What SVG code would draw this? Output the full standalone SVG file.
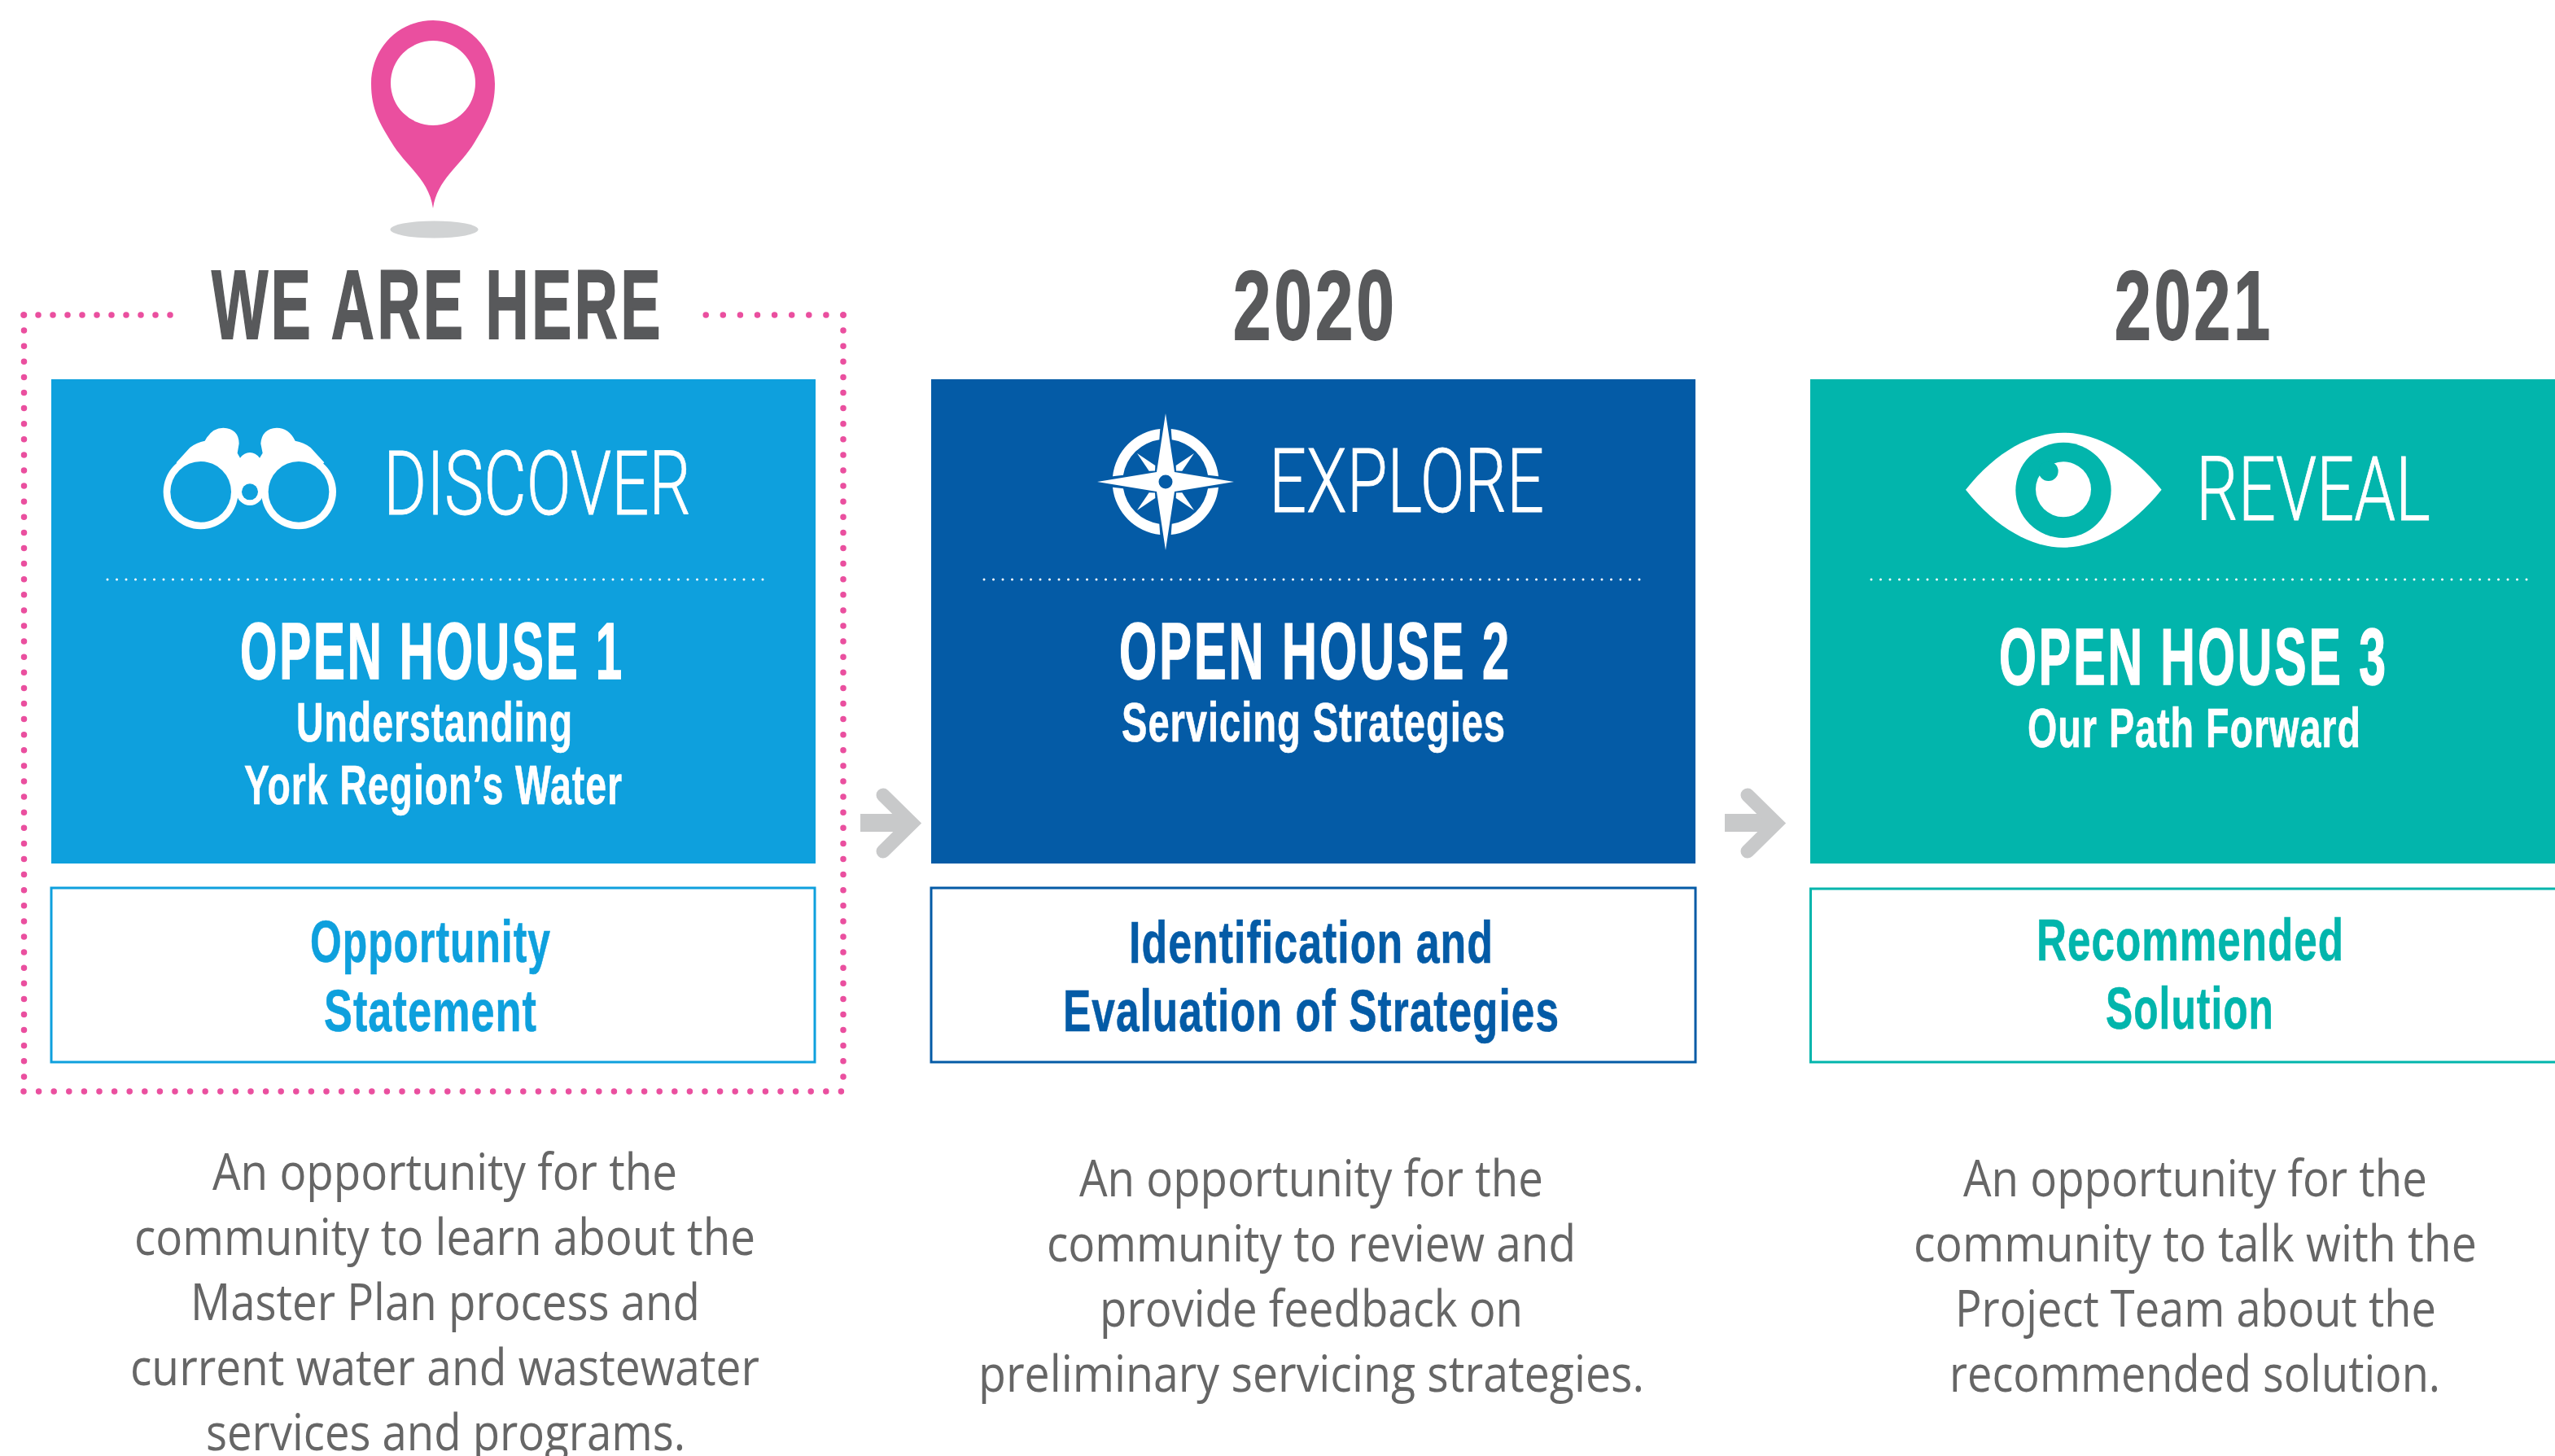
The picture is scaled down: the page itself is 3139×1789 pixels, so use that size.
<svg xmlns="http://www.w3.org/2000/svg" width="3139" height="1789" viewBox="0 0 3139 1789">
<style>
.year{font:700 120px "Liberation Sans",Arial,sans-serif;fill:#58595b;stroke:#58595b;stroke-width:2;letter-spacing:.05em}
.phase{font:300 110px Roboto,"Liberation Sans",sans-serif;fill:#fff;stroke:#fff;stroke-width:.8}
.oh{font:700 99px "Liberation Sans",Arial,sans-serif;fill:#fff;stroke:#fff;stroke-width:1.5;letter-spacing:.05em}
.sub{font:700 68px "Liberation Sans",Arial,sans-serif;fill:#fff;stroke:#fff;stroke-width:.6;letter-spacing:.02em}
.out{font:700 73px "Liberation Sans",Arial,sans-serif;stroke-width:.6;letter-spacing:.02em}
.body{font:400 63px "Open Sans","Noto Sans",sans-serif;fill:#666}
.wd{fill:none;stroke:#fff;stroke-width:3;stroke-linecap:round;stroke-dasharray:0 11.5}
.pd{fill:none;stroke:#ea4f9f;stroke-width:7.5;stroke-linecap:round}
.arrow-shaft{fill:#c8c9ca}
.arrow-head{fill:none;stroke:#c8c9ca;stroke-width:17;stroke-linecap:round;stroke-linejoin:miter}
.b1{fill:#0ea0dd}.b2{fill:#045ba6}.b3{fill:#02b5ac}
.o{fill:#fff;stroke-width:3}
</style>
<defs>
<g id="arrow"><rect class="arrow-shaft" x="1057" y="1000" width="62" height="22"/><path class="arrow-head" d="M1085 977L1120 1011.500L1085 1046"/></g>
<path id="spike" d="M35 -35L12.700 -20L13 -13.500L20.300 -13.300Z" fill="#fff"/>
<path id="arc" d="M6.700 -65A65.500 65.500 0 0 1 65 -6.700L52 -8.300A52.500 52.500 0 0 0 7.700 -51.700Z" fill="#fff"/>
</defs>

<g id="marker">
<path d="M532 25C574 25 608 59 608 103C608 135 597 152 583 175C565 205 537 220 532 256C527 220 499 205 481 175C467 152 456 135 456 103C456 59 490 25 532 25Z M532 50A52 52 0 1 0 532 154A52 52 0 1 0 532 50Z" fill="#ea4f9f" fill-rule="evenodd"/>
<ellipse cx="533.500" cy="282" rx="54" ry="10.500" fill="#d1d3d4"/>
</g>

<g id="highlight-frame">
<path class="pd" stroke-dasharray="0 18" d="M29 387H212"/>
<path class="pd" stroke-dasharray="0 21.100" d="M1036 387H866"/>
<path class="pd" stroke-dasharray="0 19.100" d="M29.500 387V1341"/>
<path class="pd" stroke-dasharray="0 19.100" d="M1036 387V1341"/>
<path class="pd" stroke-dasharray="0 18.600" d="M29 1341H1037"/>
</g>

<g id="connectors">
<use href="#arrow"/>
<use href="#arrow" x="1062"/>
</g>

<g id="stage-1">
<text class="year" x="260" y="416" textLength="555" lengthAdjust="spacingAndGlyphs">WE ARE HERE</text>
<rect class="b1" x="63" y="466" width="939" height="595"/>
<g transform="translate(180 510) scale(.3333)" fill="#fff">
<path d="M110 175L160 120Q185 100 215 95Q240 47 283 47Q340 50 341 105L335 140L345 158Q360 138 381 138Q402 138 417 158L428 140L421 105Q425 50 480 47Q525 47 548 95Q580 100 605 120L655 175L560 285L430 300Q381 350 335 300L200 285Z"/>
<circle cx="200" cy="283" r="138"/><circle cx="561" cy="283" r="138"/><circle cx="381" cy="283" r="50"/>
<g class="b1"><circle cx="200" cy="283" r="112"/><circle cx="561" cy="283" r="112"/><circle cx="381" cy="283" r="30"/></g>
</g>
<text class="phase" x="471" y="632" textLength="378" lengthAdjust="spacingAndGlyphs">DISCOVER</text>
<path class="wd" d="M132 712H938"/>
<text class="oh" x="295" y="834" textLength="472" lengthAdjust="spacingAndGlyphs">OPEN HOUSE 1</text>
<text class="sub" x="364" y="910.500" textLength="340" lengthAdjust="spacingAndGlyphs">Understanding</text>
<text class="sub" x="300" y="988" textLength="465" lengthAdjust="spacingAndGlyphs">York Region’s Water</text>
<rect class="o" x="63" y="1091" width="938" height="214" stroke="#0ea0dd"/>
<g class="out" fill="#0ea0dd" stroke="#0ea0dd">
<text x="381" y="1182" textLength="296" lengthAdjust="spacingAndGlyphs">Opportunity</text>
<text x="398" y="1267" textLength="262" lengthAdjust="spacingAndGlyphs">Statement</text>
</g>
<g class="body">
<text x="261" y="1462" textLength="571" lengthAdjust="spacingAndGlyphs">An opportunity for the</text>
<text x="165" y="1542" textLength="763" lengthAdjust="spacingAndGlyphs">community to learn about the</text>
<text x="234" y="1622" textLength="626" lengthAdjust="spacingAndGlyphs">Master Plan process and</text>
<text x="160" y="1702" textLength="773" lengthAdjust="spacingAndGlyphs">current water and wastewater</text>
<text x="253" y="1782" textLength="589" lengthAdjust="spacingAndGlyphs">services and programs.</text>
</g>
</g>

<g id="stage-2">
<text class="year" x="1515" y="416.500" textLength="202" lengthAdjust="spacingAndGlyphs">2020</text>
<rect class="b2" x="1144" y="466" width="939" height="595"/>
<g transform="translate(1432 592)">
<use href="#arc"/><use href="#arc" transform="scale(-1 1)"/><use href="#arc" transform="scale(1 -1)"/><use href="#arc" transform="scale(-1 -1)"/>
<use href="#spike"/><use href="#spike" transform="scale(-1 1)"/><use href="#spike" transform="scale(1 -1)"/><use href="#spike" transform="scale(-1 -1)"/>
<path d="M0 -84L11 -12L84 0L11 12L0 84L-11 12L-84 0L-11 -12Z" fill="#fff"/>
<circle class="b2" r="8.500"/>
</g>
<text class="phase" x="1559" y="629" textLength="338" lengthAdjust="spacingAndGlyphs">EXPLORE</text>
<path class="wd" d="M1209 712H2016"/>
<text class="oh" x="1375" y="833.500" textLength="482" lengthAdjust="spacingAndGlyphs">OPEN HOUSE 2</text>
<text class="sub" x="1378" y="910.500" textLength="472" lengthAdjust="spacingAndGlyphs">Servicing Strategies</text>
<rect class="o" x="1144" y="1091" width="939" height="214" stroke="#045ba6"/>
<g class="out" fill="#045ba6" stroke="#045ba6">
<text x="1387" y="1182.500" textLength="448" lengthAdjust="spacingAndGlyphs">Identification and</text>
<text x="1306" y="1266.500" textLength="610" lengthAdjust="spacingAndGlyphs">Evaluation of Strategies</text>
</g>
<g class="body">
<text x="1326" y="1470" textLength="570" lengthAdjust="spacingAndGlyphs">An opportunity for the</text>
<text x="1286" y="1550" textLength="650" lengthAdjust="spacingAndGlyphs">community to review and</text>
<text x="1351" y="1630" textLength="520" lengthAdjust="spacingAndGlyphs">provide feedback on</text>
<text x="1202" y="1710" textLength="818" lengthAdjust="spacingAndGlyphs">preliminary servicing strategies.</text>
</g>
</g>

<g id="stage-3">
<text class="year" x="2598" y="416.500" textLength="195" lengthAdjust="spacingAndGlyphs">2021</text>
<rect class="b3" x="2224" y="466" width="915" height="595"/>
<g transform="translate(2390 510) scale(.3333)">
<path d="M75 275C190 130 320 65 435 65C550 65 680 130 797 275C680 420 550 488 435 488C320 488 190 420 75 275Z" fill="#fff"/>
<circle class="b3" cx="435" cy="277" r="176"/>
<circle cx="435" cy="274" r="102" fill="#fff"/>
<circle class="b3" cx="380" cy="207" r="36"/>
</g>
<text class="phase" x="2698" y="639" textLength="288" lengthAdjust="spacingAndGlyphs">REVEAL</text>
<path class="wd" d="M2299 712H3106"/>
<text class="oh" x="2456" y="840.500" textLength="478" lengthAdjust="spacingAndGlyphs">OPEN HOUSE 3</text>
<text class="sub" x="2491" y="918" textLength="410" lengthAdjust="spacingAndGlyphs">Our Path Forward</text>
<path d="M3139 1092H2224.500V1305H3139" fill="#fff" stroke="#02b5ac" stroke-width="3"/>
<g class="out" fill="#02b5ac" stroke="#02b5ac">
<text x="2502" y="1179.500" textLength="378" lengthAdjust="spacingAndGlyphs">Recommended</text>
<text x="2587" y="1263.500" textLength="207" lengthAdjust="spacingAndGlyphs">Solution</text>
</g>
<g class="body">
<text x="2412" y="1470" textLength="570" lengthAdjust="spacingAndGlyphs">An opportunity for the</text>
<text x="2351" y="1550" textLength="692" lengthAdjust="spacingAndGlyphs">community to talk with the</text>
<text x="2402" y="1630" textLength="591" lengthAdjust="spacingAndGlyphs">Project Team about the</text>
<text x="2395" y="1710" textLength="603" lengthAdjust="spacingAndGlyphs">recommended solution.</text>
</g>
</g>
</svg>
